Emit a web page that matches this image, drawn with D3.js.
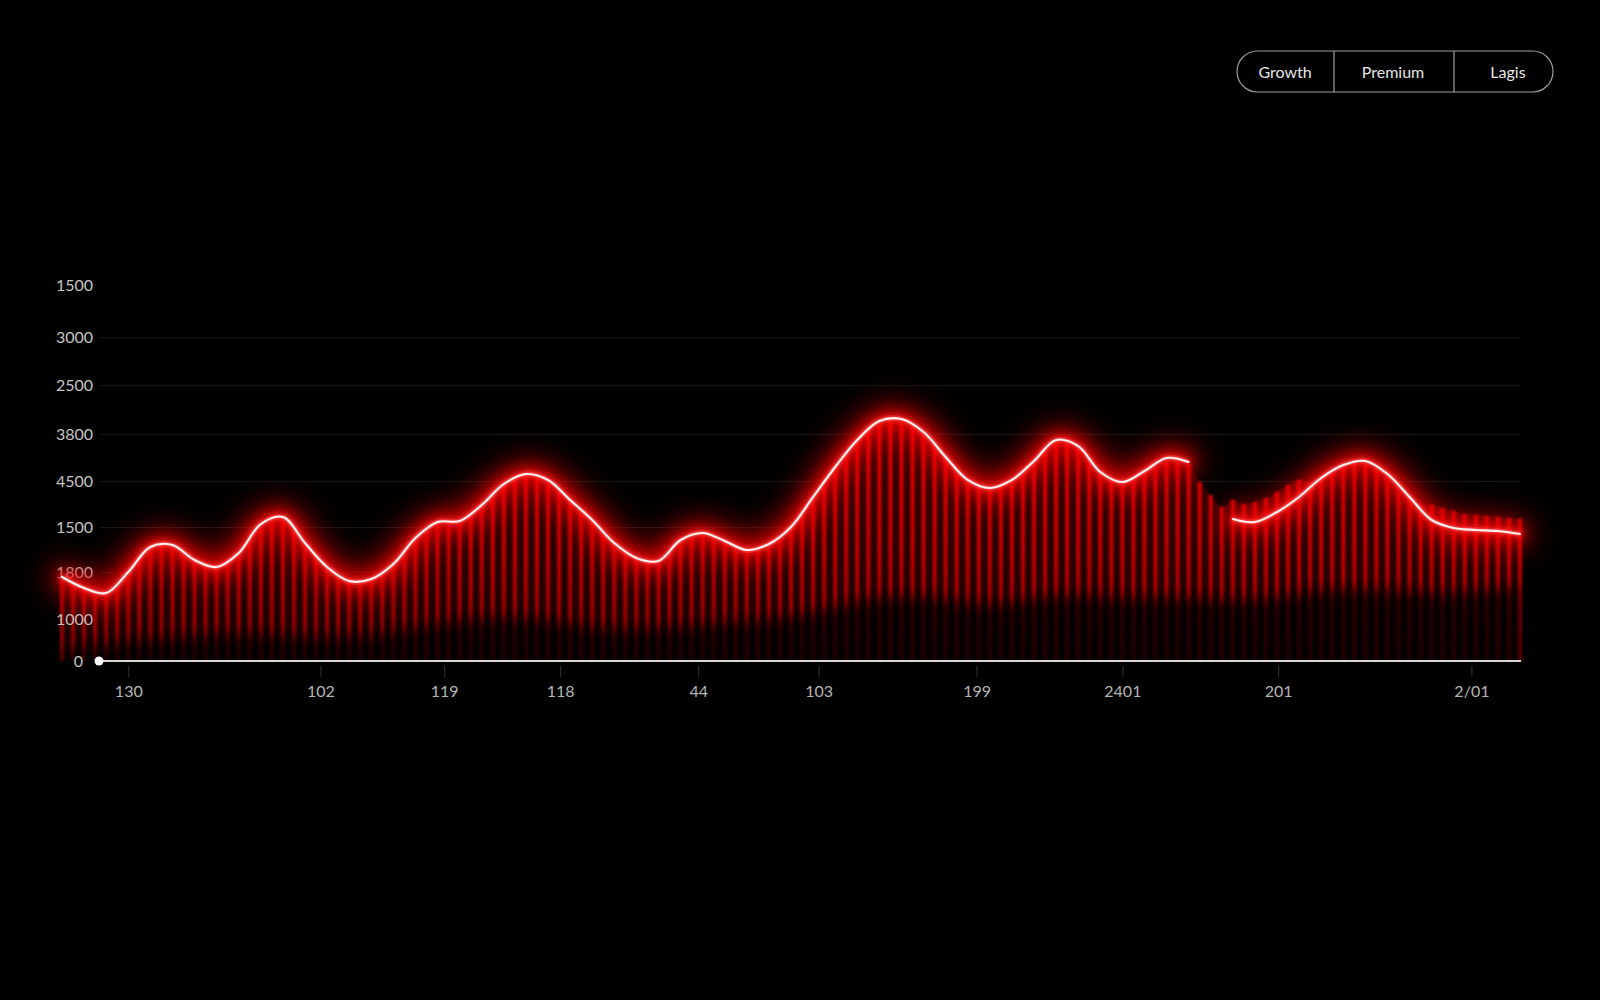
<!DOCTYPE html>
<html><head><meta charset="utf-8">
<script src="https://cdn.jsdelivr.net/npm/d3@7"></script>
<style>html,body{margin:0;background:#000;overflow:hidden}svg{display:block}</style>
</head><body>
<svg id="c" width="1600" height="1000"></svg>
<script>
// ---------- data ----------
const seriesNames = ["Growth", "Premium", "Lagis"];

// Growth: white glowing line, sampled every 2nd bar slot (null = gap)
const growth = [894, 777, 723, 947, 1213, 1234, 1074, 1000, 1149, 1457, 1532, 1255, 1000, 851, 872, 1032,
  1309, 1479, 1489, 1660, 1883, 1989, 1926, 1713, 1500, 1255, 1096, 1064, 1287, 1362, 1277, 1181,
  1245, 1426, 1745, 2064, 2351, 2553, 2574, 2436, 2170, 1926, 1840, 1926, 2128, 2351, 2287, 2011,
  1904, 2021, 2160, 2117, null, 1511, 1479, 1585, 1745, 1947, 2085, 2128, 1989, 1745, 1500, 1415,
  1394, 1383, 1351];

// Premium: red bars, one per slot
const premium = [894, 830, 777, 734, 723, 809, 947, 1096, 1213, 1266, 1234, 1160, 1074, 1011, 1000, 1053,
  1149, 1309, 1457, 1553, 1532, 1415, 1255, 1117, 1000, 904, 851, 840, 872, 936, 1032, 1170,
  1309, 1415, 1479, 1489, 1489, 1553, 1660, 1777, 1883, 1957, 1989, 1979, 1926, 1830, 1713, 1606,
  1500, 1372, 1255, 1170, 1096, 1053, 1064, 1160, 1287, 1362, 1362, 1330, 1277, 1223, 1181, 1191,
  1245, 1319, 1426, 1574, 1745, 1904, 2064, 2213, 2351, 2468, 2553, 2585, 2574, 2521, 2436, 2308,
  2170, 2043, 1926, 1851, 1840, 1872, 1926, 2021, 2128, 2255, 2351, 2372, 2287, 2149, 2011, 1926,
  1904, 1947, 2021, 2106, 2160, 2160, 2096, 1904, 1766, 1638, 1713, 1670, 1691, 1734, 1798, 1872,
  1926, 1904, 1947, 2021, 2085, 2117, 2128, 2074, 1989, 1872, 1745, 1660, 1660, 1628, 1596, 1564,
  1553, 1543, 1532, 1521, 1511];

// Lagis: dark lower band, sampled every 6th bar slot
const lagis = [117, 213, 266, 309, 223, 298, 436, 489, 330, 330, 415, 436, 649, 723, 543, 734,
  649, 691, 606, 777, 755, 702, 787];

const yTickValues = [0, 440, 940, 1420, 1910, 2410, 2930, 3440, 4000];
const yTickLabels = ["0", "1000", "1800", "1500", "4500", "3800", "2500", "3000", "1500"];
const xTickPositions = [6, 23.4, 34.6, 45.1, 57.6, 68.5, 82.8, 96, 110.1, 127.6];
const xTickLabels = ["130", "102", "119", "118", "44", "103", "199", "2401", "201", "2/01"];

// ---------- setup ----------
const svg = d3.select("#c");
const W = 1600, H = 1000;
svg.append("rect").attr("width", W).attr("height", H).attr("fill", "#000");

const x = d3.scaleLinear().domain([0, premium.length - 1]).range([62, 1520]);
const y = d3.scaleLinear().domain([0, 4000]).range([661, 285]);

const defs = svg.append("defs");
function blur(id, sd) {
  defs.append("filter").attr("id", id).attr("filterUnits", "userSpaceOnUse")
    .attr("x", 0).attr("y", 0).attr("width", W).attr("height", H)
    .append("feGaussianBlur").attr("stdDeviation", sd);
}
blur("gHuge", 16); blur("gBig", 8); blur("gMid", 3); blur("gSmall", 1.1); blur("gBar", 1.0); blur("gBand", 7);

const barGrad = defs.append("linearGradient").attr("id", "barGrad")
  .attr("gradientUnits", "userSpaceOnUse").attr("x1", 0).attr("x2", 0).attr("y1", 400).attr("y2", 661);
barGrad.append("stop").attr("offset", 0).attr("stop-color", "#e80808");
barGrad.append("stop").attr("offset", 0.6).attr("stop-color", "#bc0000");
barGrad.append("stop").attr("offset", 1).attr("stop-color", "#7a0000");

const areaGrad = defs.append("linearGradient").attr("id", "areaGrad")
  .attr("gradientUnits", "userSpaceOnUse").attr("x1", 0).attr("x2", 0).attr("y1", 400).attr("y2", 661);
areaGrad.append("stop").attr("offset", 0).attr("stop-color", "#420000");
areaGrad.append("stop").attr("offset", 1).attr("stop-color", "#160000");

// ---------- grid ----------
svg.append("g").selectAll("line")
  .data(yTickValues.slice(1, -1))
  .join("line")
  .attr("x1", 100).attr("x2", 1520)
  .attr("y1", d => y(d)).attr("y2", d => y(d))
  .attr("stroke", "#181818").attr("stroke-width", 1);

// ---------- Premium area + bars ----------
const pData = premium.map((v, i) => ({ i, v }));
svg.append("path")
  .datum(pData)
  .attr("d", d3.area().x(d => x(d.i)).y0(y(0)).y1(d => y(d.v)).curve(d3.curveMonotoneX))
  .attr("fill", "url(#areaGrad)");

svg.append("g").attr("filter", "url(#gBar)")
  .selectAll("rect").data(pData).join("rect")
  .attr("x", d => x(d.i) - 2.1).attr("width", 4.2)
  .attr("y", d => y(d.v)).attr("height", d => y(0) - y(d.v))
  .attr("fill", "url(#barGrad)");

// ---------- Lagis dark band ----------
const lData = lagis.map((v, j) => ({ i: j * 6, v }));
svg.append("path")
  .datum(lData)
  .attr("d", d3.area().x(d => x(d.i)).y0(y(0) + 20).y1(d => y(d.v)).curve(d3.curveBasis))
  .attr("fill", "#000").attr("opacity", 0.74).attr("filter", "url(#gBand)");

// ---------- y axis labels ----------
const yAxis = svg.append("g").attr("transform", "translate(93,0)")
  .call(d3.axisLeft(y).tickValues(yTickValues).tickFormat((d, i) => yTickLabels[i]).tickSize(0).tickPadding(0));
yAxis.select(".domain").remove();
yAxis.selectAll("text")
  .attr("fill", "#c4c4c4").style("font-family", "Lato, 'Open Sans', sans-serif").style("font-size", "16px")
  .attr("dx", (d, i) => i === 0 ? -10 : 0);

// ---------- Growth line with glow ----------
const gData = growth.map((v, k) => ({ i: k * 2, v }));
const line = d3.line().defined(d => d.v != null).x(d => x(d.i)).y(d => y(d.v)).curve(d3.curveCatmullRom.alpha(0.5));
svg.append("path").datum(gData).attr("d", line)
  .attr("fill", "none").attr("stroke", "#ff0000").attr("stroke-width", 22).attr("stroke-linecap", "round")
  .attr("opacity", 0.75).attr("filter", "url(#gHuge)");
svg.append("path").datum(gData).attr("d", line)
  .attr("fill", "none").attr("stroke", "#ff0a0a").attr("stroke-width", 10).attr("stroke-linecap", "round")
  .attr("opacity", 0.95).attr("filter", "url(#gBig)");
svg.append("path").datum(gData).attr("d", line)
  .attr("fill", "none").attr("stroke", "#ff2020").attr("stroke-width", 5).attr("stroke-linecap", "round")
  .attr("filter", "url(#gMid)");
svg.append("path").datum(gData).attr("d", line)
  .attr("fill", "none").attr("stroke", "#ff5a5a").attr("stroke-width", 3.2)
  .attr("filter", "url(#gSmall)");
svg.append("path").datum(gData).attr("d", line)
  .attr("fill", "none").attr("stroke", "#fff0f0").attr("stroke-width", 2.1).attr("stroke-linecap", "round");

// ---------- x axis ----------
svg.append("line").attr("x1", 99).attr("x2", x(premium.length - 1) + 1)
  .attr("y1", y(0)).attr("y2", y(0)).attr("stroke", "#d6d6d6").attr("stroke-width", 2);
svg.append("circle").attr("cx", 99).attr("cy", y(0)).attr("r", 4.5).attr("fill", "#fff");

const xAxis = svg.append("g").attr("transform", `translate(0,${y(0) + 5})`)
  .call(d3.axisBottom(x).tickValues(xTickPositions).tickFormat((d, i) => xTickLabels[i]).tickSize(11).tickPadding(9));
xAxis.select(".domain").remove();
xAxis.selectAll(".tick line").attr("stroke", "#333");
xAxis.selectAll("text").attr("fill", "#b5b5b5")
  .style("font-family", "Lato, 'Open Sans', sans-serif").style("font-size", "16px");

// ---------- legend ----------
const legendCenters = [1285, 1393, 1508];
const lg = svg.append("g");
lg.append("rect").attr("x", 1237).attr("y", 51).attr("width", 316).attr("height", 41).attr("rx", 20.5)
  .attr("fill", "none").attr("stroke", "#9c9c9c").attr("stroke-width", 1.2);
[1334, 1454].forEach(px => lg.append("line").attr("x1", px).attr("x2", px).attr("y1", 51).attr("y2", 92)
  .attr("stroke", "#9c9c9c").attr("stroke-width", 1.2));
lg.selectAll("text").data(seriesNames).join("text")
  .attr("x", (d, i) => legendCenters[i]).attr("y", 72).attr("dy", "0.35em")
  .attr("text-anchor", "middle").attr("fill", "#e6e6e6")
  .style("font-family", "Lato, 'Open Sans', sans-serif").style("font-size", "16px")
  .text(d => d);
</script>
</body></html>
